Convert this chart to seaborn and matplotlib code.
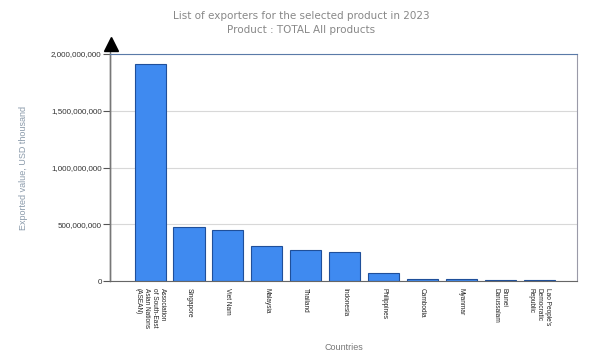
import numpy as np
import pandas as pd
import matplotlib
matplotlib.use("Agg")
import matplotlib.pyplot as plt
import seaborn as sns

# ---------------- Data ----------------
countries = [
    "Association\nof South-East\nAsian Nations\n(ASEAN)",
    "Singapore",
    "Viet Nam",
    "Malaysia",
    "Thailand",
    "Indonesia",
    "Philippines",
    "Cambodia",
    "Myanmar",
    "Brunei\nDarussalam",
    "Lao People's\nDemocratic\nRepublic",
]
exported = [1912e6, 474e6, 450e6, 306e6, 275e6, 254e6, 68e6, 21e6, 15e6, 10e6, 8e6]
yticks = [0, 500e6, 1000e6, 1500e6, 2000e6]

df = pd.DataFrame({"country": countries, "value": exported})

# ---------------- Style ----------------
sns.set_style("white")
plt.rcParams["font.family"] = ["Liberation Sans", "DejaVu Sans"]

fig = plt.figure(figsize=(6.02, 3.61), dpi=100)
ax = fig.add_axes([110 / 602, 1 - 281 / 361, 467 / 602, 227 / 361])

sns.barplot(data=df, x="country", y="value", color="#3f8af0", saturation=1,
            edgecolor="#1f4f9a", linewidth=0.8, width=0.8, ax=ax)

ax.set_ylim(0, 2000e6)
ax.set_xlim(-1.03, 10.97)
ax.set_yticks(yticks)
ax.set_yticklabels([f"{v:,.0f}" for v in yticks], fontsize=5.8, color="#333333")
ax.yaxis.grid(True, color="#d8d8d8", linewidth=0.8)
ax.set_axisbelow(True)
ax.tick_params(axis="y", length=5, width=0.8, color="#555555", pad=1, left=True)
ax.tick_params(axis="x", length=0, pad=5)
for lbl in ax.get_xticklabels():
    lbl.set_rotation(-90)
    lbl.set_fontsize(4.7)
    lbl.set_va("top")
    lbl.set_ha("center")
    lbl.set_multialignment("left")
    lbl.set_linespacing(1.2)
    lbl.set_color("#222222")

for side in ["left", "bottom", "right", "top"]:
    ax.spines[side].set_visible(True)
ax.spines["left"].set_color("#777777")
ax.spines["bottom"].set_color("#666666")
ax.spines["right"].set_color("#9a9aa8")
ax.spines["top"].set_color("#5a7aa8")
ax.spines["left"].set_linewidth(1.0)

# arrow above the top of the y axis
ax.plot([110 / 602, 110 / 602], [1 - 281 / 361, 1 - 48 / 361], transform=fig.transFigure,
        color="#777777", linewidth=1.0, clip_on=False)
ax.plot([110.5 / 602], [1 - 44 / 361], transform=fig.transFigure, marker="^",
        markersize=10, color="black", clip_on=False)

ax.set_xlabel("Countries", fontsize=6.5, color="#777777")
ax.xaxis.set_label_coords(0.5, -0.275)
ax.set_ylabel("Exported value, USD thousand", fontsize=6.5, color="#8a9aaa")
ax.yaxis.set_label_coords(-0.175, 0.5)

fig.text(0.5, 1 - 23 / 361, "List of exporters for the selected product in 2023\nProduct : TOTAL All products",
         ha="center", va="center", fontsize=7.5, color="#888888",
         family=["DejaVu Sans"], linespacing=1.45)

fig.savefig("out.png", dpi=100)
